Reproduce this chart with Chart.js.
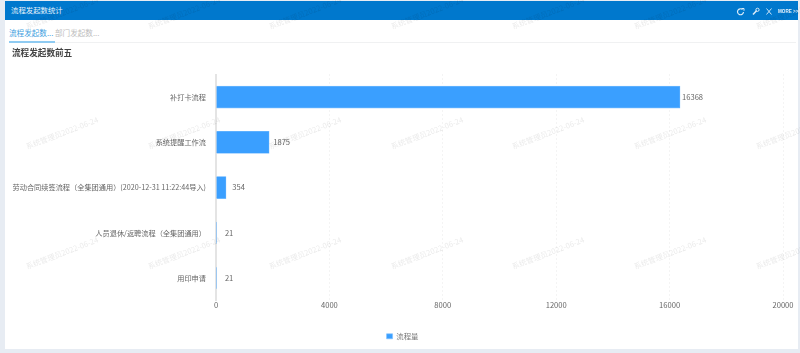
<!DOCTYPE html>
<html><head><meta charset="utf-8">
<script src="https://cdn.jsdelivr.net/npm/chart.js@4"></script>
<style>
html,body{margin:0;padding:0;width:800px;height:353px;overflow:hidden;background:#e7ecf3;font-family:"Noto Sans CJK SC","Noto Sans",sans-serif}
#wrap{position:absolute;left:0;top:0;width:800px;height:353px;filter:blur(.35px)}
#card{position:absolute;left:5px;top:1px;width:793px;height:348px;background:#fff}
#head{position:absolute;left:5px;top:1px;width:793px;height:19px;background:#0078cd}
.t{position:absolute;white-space:nowrap;line-height:1}
#c{position:absolute;left:0;top:0}
.wm{position:absolute;white-space:nowrap;font-size:7.6px;line-height:10px;color:rgba(0,0,0,.09);transform:translate(-50%,-50%) rotate(-21deg);pointer-events:none}
</style></head><body>
<div id="wrap">
<div id="card"></div>
<div id="head"></div>
<div class="t" style="left:11px;top:6px;font-size:7.4px;color:#e8f3fb">流程发起数统计</div>
<svg style="position:absolute;left:736px;top:5px" width="40" height="14" viewBox="0 0 40 14" fill="none" stroke="#dcecf8" stroke-width="1.2">
<path d="M6.5 4.5a3 3 0 1 0 1 2.5"/><path d="M5.5 3.5h2.5v2.2" stroke-width="1"/>
<path d="M17 9.5l3.5-3.8" stroke-width="1.5"/><circle cx="21.5" cy="4.8" r="1.6" stroke-width="1"/>
<path d="M30.5 3.5l5 6M35.5 3.5l-5 6" stroke-width=".9"/>
</svg>
<div class="t" style="left:778px;top:10px;font-size:4.6px;font-weight:700;color:#e8f3fb;font-family:'Liberation Sans'">MORE &gt;&gt;</div>
<div class="t" style="left:9px;top:29px;font-size:7.6px;color:#3f9fe0">流程发起数...</div>
<div class="t" style="left:55px;top:29px;font-size:7.6px;color:#bdbdbd">部门发起数...</div>
<div style="position:absolute;left:9px;top:41.5px;width:787px;height:1.2px;background:#f0f1f2"></div>
<div style="position:absolute;left:9px;top:41px;width:46px;height:1.6px;background:#8fcbf2"></div>
<div class="t" style="left:12px;top:47.5px;font-size:8.6px;font-weight:700;color:#444">流程发起数前五</div>
<canvas id="c" width="800" height="353"></canvas>
<div id="marks"></div>
</div>
<script>
const categories=["补打卡流程","系统提醒工作流","劳动合同续签流程（全集团通用）(2020-12-31 11:22:44导入)","人员退休/返聘流程（全集团通用）","用印申请"];
const seriesName="流程量";
const seriesValues=[16368,1875,354,21,21];
const axisMax=20000;
const axisStep=4000;
const watermarkText="系统管理员2022-06-24";

const marks=document.getElementById('marks');
[13,133,253].forEach(y=>{
  for(let i=0;i<7;i++){
    const s=document.createElement('span');s.className='wm';s.textContent=watermarkText;
    s.style.left=(62+121.6*i)+'px';s.style.top=y+'px';marks.appendChild(s);
  }
});

const barLabels={id:'barLabels',
 afterLayout(ch){ch.legend.left+=11;ch.legend.right+=11;},
 afterDatasetsDraw(ch){
  const g=ch.ctx,meta=ch.getDatasetMeta(0);
  g.save();g.font='7.6px "Noto Sans CJK SC","Noto Sans",sans-serif';g.fillStyle='#666';g.textAlign='center';g.textBaseline='middle';
  meta.data.forEach((el,i)=>g.fillText(String(seriesValues[i]),el.x+12.5,el.y));
  g.restore();
}};
Chart.defaults.font.family='"Noto Sans CJK SC","Noto Sans",sans-serif';
new Chart(document.getElementById('c'),{
  type:'bar',
  plugins:[barLabels],
  data:{labels:categories,datasets:[{label:seriesName,data:seriesValues,backgroundColor:'#3a9fff',borderColor:'#7fc0ff',borderWidth:.6,barThickness:22}]},
  options:{
    indexAxis:'y',responsive:false,animation:false,
    layout:{padding:{left:0,right:17,top:74.5,bottom:3}},
    plugins:{
      tooltip:{enabled:false},
      legend:{position:'bottom',labels:{font:{size:7.4},color:'#777',boxWidth:6,boxHeight:5,padding:8}}
    },
    scales:{
      x:{type:'linear',min:0,max:axisMax,
        ticks:{stepSize:axisStep,color:'#666',font:{size:7.6},padding:0,maxRotation:0,callback:v=>String(v)},
        grid:{color:'#e9e9e9',lineWidth:1,drawTicks:false},
        border:{display:false,dash:[1,3]},
        afterFit(s){s.height=24}
      },
      y:{ticks:{color:'#666',font:{size:7.2},padding:3,autoSkip:false},
        grid:{display:false,drawOnChartArea:false,drawTicks:true,tickLength:7,tickColor:'#e2e2e2'},
        border:{display:true,color:'#e4e4e4',width:2},
        afterFit(s){s.width=216}
      }
    }
  }
});
</script>
</body></html>
